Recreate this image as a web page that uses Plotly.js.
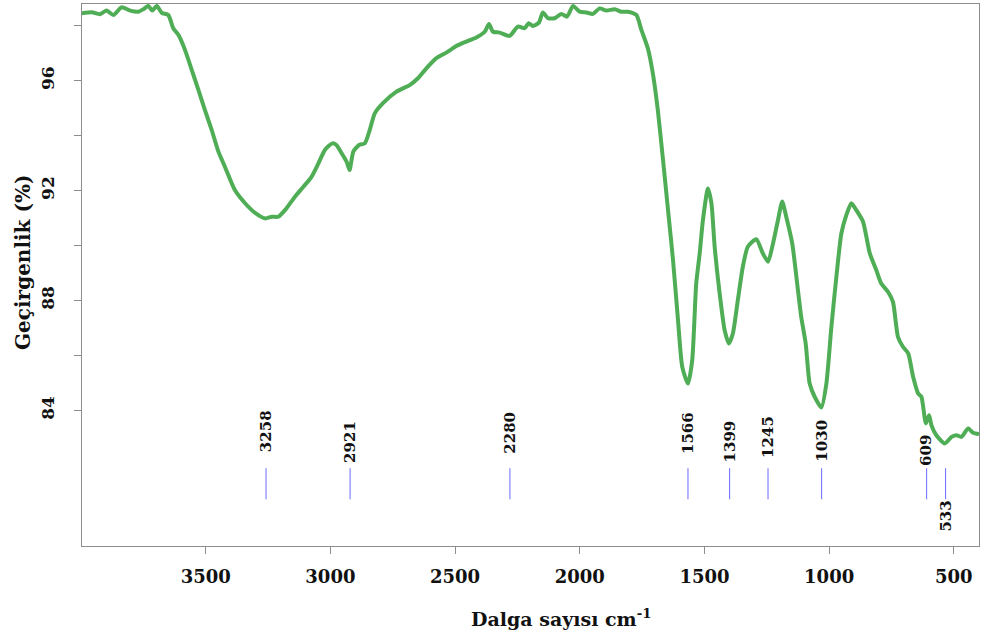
<!DOCTYPE html>
<html>
<head>
<meta charset="utf-8">
<script src="https://cdn.plot.ly/plotly-3.0.1.min.js"></script>
<style>html,body{margin:0;padding:0;background:#fff;}#chart{width:984px;height:637px;}</style>
</head>
<body>
<div id="chart"></div>
<script>
// Wavenumber (cm-1) and transmittance (%)
var wavenumber = [3997,3957,3924,3897,3870,3837,3803,3770,3750,3730,3714,3696,3676,3650,3630,3609,3583,3556,3529,3503,3476,3449,3423,3383,3342,3302,3262,3235,3209,3182,3142,3108,3075,3048,3022,2992,2976,2955,2935,2923,2908,2885,2862,2842,2822,2789,2735,2682,2649,2615,2575,2535,2495,2455,2415,2381,2364,2348,2321,2281,2248,2221,2205,2188,2164,2148,2127,2101,2074,2051,2027,2000,1973,1947,1920,1893,1860,1833,1807,1773,1753,1727,1707,1687,1666,1646,1626,1606,1589,1566,1549,1533,1519,1506,1486,1472,1459,1439,1419,1402,1386,1366,1346,1326,1292,1266,1245,1225,1205,1188,1172,1148,1125,1112,1094,1078,1058,1031,1011,991,971,951,931,911,891,864,837,811,791,764,744,724,704,683,663,643,630,612,599,590,570,536,509,489,469,443,423,399];
var transmittance = [98.45,98.49,98.42,98.55,98.39,98.67,98.55,98.51,98.60,98.72,98.55,98.72,98.47,98.39,97.91,97.66,97.12,96.39,95.66,94.93,94.21,93.42,92.87,92.02,91.54,91.19,90.99,91.05,91.05,91.29,91.78,92.14,92.51,92.99,93.48,93.72,93.66,93.36,93.05,92.75,93.42,93.66,93.72,94.21,94.81,95.18,95.60,95.84,96.09,96.45,96.82,97.02,97.26,97.42,97.57,97.78,98.06,97.78,97.75,97.63,97.97,97.91,98.09,97.99,98.11,98.48,98.27,98.27,98.43,98.33,98.72,98.51,98.48,98.43,98.63,98.55,98.60,98.51,98.51,98.39,97.85,97.18,96.27,94.93,93.11,91.29,89.47,87.29,85.59,84.98,85.83,88.62,89.72,90.93,92.08,91.54,89.96,88.26,86.92,86.44,86.80,88.02,89.23,89.96,90.23,89.72,89.41,90.08,90.93,91.60,91.05,90.08,88.38,87.41,86.44,84.98,84.50,84.11,84.98,87.04,88.86,90.44,91.11,91.54,91.29,90.87,89.72,89.11,88.62,88.32,87.95,86.68,86.32,86.08,85.22,84.62,84.50,83.53,83.83,83.47,83.10,82.80,83.04,83.10,83.04,83.35,83.19,83.14];

// Marked peaks
var peaks = [3258, 2921, 2280, 1566, 1399, 1245, 1030, 609, 533];
var peakLabels = ["3258", "2921", "2280", "1566", "1399", "1245", "1030", "609", "533"];

// Axis ticks and titles
var xTickVals = [3500, 3000, 2500, 2000, 1500, 1000, 500];
var xTickText = ["3500", "3000", "2500", "2000", "1500", "1000", "500"];
var yTickVals = [84, 88, 92, 96];
var yTickText = ["84", "88", "92", "96"];
var yMinorTickVals = [86, 90, 94, 98];
var xTitle = 'Dalga sayısı cm<sup>-1</sup>';
var yTitle = 'Geçirgenlik (%)';

// Layout-only settings (positions of marker lines / labels)
var markTop = 81.9, markBottom = 80.77;
var labelY = [83.25, 82.86, 83.19, 83.18, 82.86, 83.04, 82.89, 82.55, 80.16];

var font = 'DejaVu Serif';

var mx = [], my = [];
peaks.forEach(function (p) { mx.push(p, p, null); my.push(markTop, markBottom, null); });

var traces = [
  {
    x: wavenumber, y: transmittance, type: 'scatter', mode: 'lines',
    line: {color: '#4fae55', width: 4, shape: 'spline', smoothing: 0.6},
    hoverinfo: 'x+y', showlegend: false
  },
  {
    x: mx, y: my, type: 'scatter', mode: 'lines',
    line: {color: '#6b6bff', width: 1},
    hoverinfo: 'skip', showlegend: false
  }
];

var annotations = peaks.map(function (p, i) {
  return {
    x: p, y: labelY[i], xref: 'x', yref: 'y', text: peakLabels[i],
    showarrow: false, textangle: -90,
    font: {family: font, size: 15, color: '#111', weight: 'bold'}
  };
});
// Axis titles (placed as in the reference, slightly off-centre)
annotations.push({
  text: xTitle, xref: 'paper', yref: 'paper', x: 0.534, y: -0.133,
  xanchor: 'center', yanchor: 'middle', showarrow: false,
  font: {family: font, size: 19, color: '#111', weight: 'bold'}
});
annotations.push({
  text: yTitle, xref: 'paper', yref: 'paper', x: -0.0658, y: 0.524,
  xanchor: 'center', yanchor: 'middle', showarrow: false, textangle: -90,
  font: {family: font, size: 20, color: '#111', weight: 'bold'}
});

var layout = {
  width: 984, height: 637,
  margin: {l: 82, r: 5, t: 4, b: 91},
  paper_bgcolor: '#fff', plot_bgcolor: '#fff',
  showlegend: false,
  xaxis: {
    range: [3996, 399], autorange: false,
    tickmode: 'array', tickvals: xTickVals, ticktext: xTickText,
    ticks: 'outside', ticklen: 7, tickcolor: '#8c8c8c', tickwidth: 1,
    ticklabelstandoff: 7,
    showline: true, mirror: true, linecolor: '#8c8c8c', linewidth: 1.3,
    showgrid: false, zeroline: false,
    tickfont: {family: font, size: 18, color: '#111', weight: 'bold'}
  },
  yaxis: {
    range: [79.07, 98.79], autorange: false,
    tickmode: 'array', tickvals: yTickVals, ticktext: yTickText,
    ticks: 'outside', ticklen: 7, tickcolor: '#8c8c8c', tickwidth: 1,
    minor: {tickmode: 'array', tickvals: yMinorTickVals, ticks: 'outside', ticklen: 7,
            tickcolor: '#8c8c8c', tickwidth: 1, showgrid: false},
    tickangle: -90, ticklabelstandoff: 13,
    showline: true, mirror: true, linecolor: '#8c8c8c', linewidth: 1.3,
    showgrid: false, zeroline: false,
    tickfont: {family: font, size: 17, color: '#111', weight: 'bold'}
  },
  annotations: annotations
};

Plotly.newPlot('chart', traces, layout, {displayModeBar: false, staticPlot: true});
</script>
</body>
</html>
